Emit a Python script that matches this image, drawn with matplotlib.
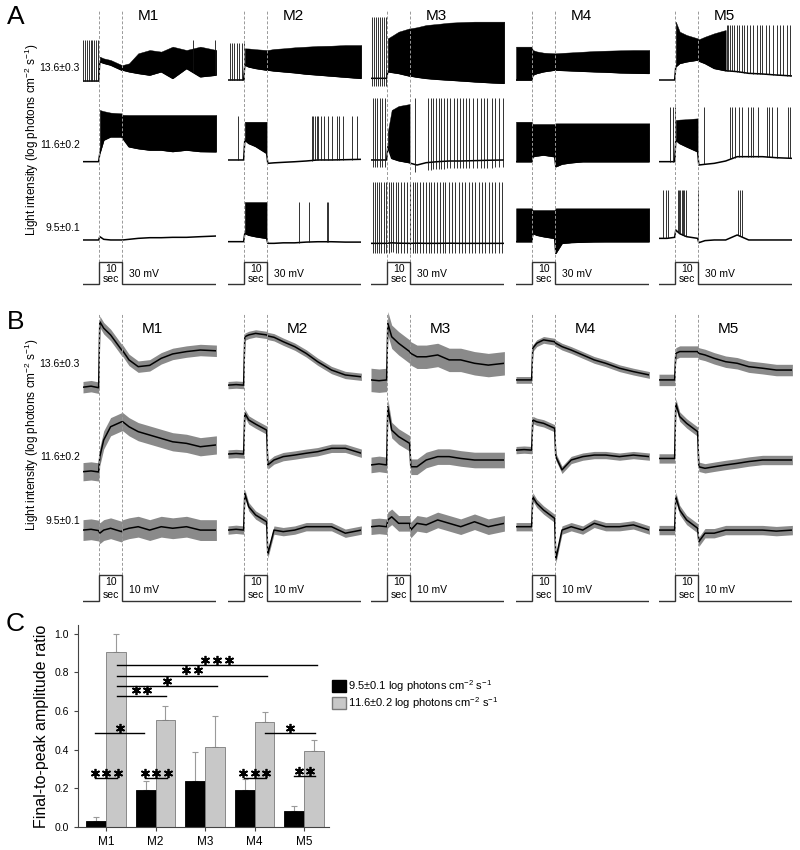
import numpy as np
import matplotlib
matplotlib.use('Agg')
import matplotlib.pyplot as plt
from matplotlib.patches import Patch
from matplotlib.transforms import ScaledTranslation

plt.rcParams['font.family'] = ['Liberation Sans', 'DejaVu Sans']
plt.rcParams['mathtext.fontset'] = 'custom'
plt.rcParams['mathtext.rm'] = 'Liberation Sans'
plt.rcParams['mathtext.it'] = 'Liberation Sans:italic'
plt.rcParams['mathtext.bf'] = 'Liberation Sans:bold'

# ---------------- data ----------------
cells = ['M1', 'M2', 'M3', 'M4', 'M5']
intensities = ['13.6±0.3', '11.6±0.2', '9.5±0.1']
ylabel_traces = r'Light intensity (log photons cm$^{\mathregular{-2}}$ s$^{\mathregular{-1}}$)'

# common time grid (s, light on 0-10 s)
t_grid = [-7, -3.5, -0.2, 0.3, 2, 5, 9.8, 10.3, 13, 17, 22, 27, 32, 38, 44, 51]

# ---- Panel A: single-cell recordings (mV relative to row baseline) ----
# M1
a_m1_hi_base = [-1.4, -1.4, -1.4, 25.0, 23.0, 20.5, 13.6, 13.6, 11.4, 9.1, 6.8, 11.4, 2.3, 15.9, 4.5, 6.8]
a_m1_hi_top = [-1.4, -1.4, -1.4, 31.8, 29.5, 27.3, 20.5, 20.5, 22.7, 36.4, 40.9, 38.7, 45.5, 40.9, 45.5, 40.9]
a_m1_hi_spk = [-6.9, -6.1, -5.3, -4.5, -3.7, -2.9, -2.1, -1.3, -0.5, 40.8, 50.6]
a_m1_mid_base = [-0.9, -0.9, -0.9, 10.5, 28.6, 33.1, 33.1, 31.0, 19.5, 17.0, 15.0, 15.0, 13.0, 15.0, 13.0, 12.7]
a_m1_mid_top = [-0.9, -0.9, -0.9, 69.6, 68.0, 66.0, 65.0, 63.0, 62.8, 62.8, 62.8, 62.8, 62.8, 62.8, 62.8, 62.8]
a_m1_mid_spk = []
a_m1_lo_base = [1.4, 1.4, 1.4, 5.9, 2.3, 1.4, 1.4, 1.4, 2.3, 3.6, 4.5, 4.5, 5.0, 5.0, 5.9, 6.8]
a_m1_lo_top = None
a_m1_lo_spk = []
# M2
a_m2_hi_base = [0.0, 0.0, 0.0, 20.5, 18.0, 15.9, 13.6, 13.6, 12.5, 11.4, 10.0, 8.2, 7.0, 5.5, 4.0, 2.3]
a_m2_hi_top = [0.0, 0.0, 0.0, 43.2, 43.0, 42.0, 40.9, 40.9, 42.3, 43.2, 44.6, 45.5, 46.4, 46.8, 47.7, 47.7]
a_m2_hi_spk = [-6.1, -5.1, -4.3, -3.1, -2.1, -1.0, -0.2]
a_m2_mid_base = [1.4, 1.4, 1.4, 28.6, 24.0, 20.0, 10.5, -3.2, -2.5, -1.8, -1.0, 0.0, 1.4, 1.4, 1.8, 2.3]
a_m2_mid_top = [1.4, 1.4, 1.4, 53.6, 53.6, 53.6, 53.6, -3.2, -2.5, -1.8, -1.0, 0.0, 1.4, 1.4, 1.8, 2.3]
a_m2_mid_spk = [-2.5, 29.4, 30.1, 30.8, 31.6, 32.3, 33.4, 34.6, 36.6, 38.1, 40.5, 41.4, 43.1, 46.8, 48.9, 50.7]
a_m2_lo_base = [-0.9, -0.9, -0.9, 10.5, 8.0, 6.0, 3.6, -3.2, -3.2, -2.5, -2.5, -1.5, -1.0, -1.0, -1.5, -1.5]
a_m2_lo_top = [-0.9, -0.9, -0.9, 53.2, 53.2, 53.2, 53.2, -3.2, -3.2, -2.5, -2.5, -1.5, -1.0, -1.0, -1.5, -1.5]
a_m2_lo_spk = [23.9, 28.2, 35.9, 36.6]
# M3
a_m3_hi_base = [2.3, 2.3, 2.3, 11.4, 10.5, 9.1, 5.5, 5.5, 4.0, 2.3, 1.0, 0.0, -1.0, -2.3, -3.4, -4.5]
a_m3_hi_top = [2.3, 2.3, 2.3, 56.8, 60.0, 65.9, 70.5, 70.5, 72.0, 75.0, 76.5, 78.2, 79.0, 79.6, 79.6, 79.6]
a_m3_hi_spk = [-6.4, -5.7, -4.8, -4.1, -3.1, -2.2, -1.3, -0.5]
a_m3_mid_base = [1.4, 1.4, 1.4, 19.5, 3.6, 0.5, -2.3, -3.2, -5.5, -2.3, -0.9, 0.0, 0.0, 0.5, 1.0, 1.4]
a_m3_mid_top = [1.4, 1.4, 1.4, 40.0, 69.6, 75.0, 77.7, -3.2, -5.5, -2.3, -0.9, 0.0, 0.0, 0.5, 1.0, 1.4]
a_m3_mid_spk = [-6.3, -5.3, -4.3, -3.1, -2.1, -0.9, 12.1, 17.9, 19.1, 20.1, 21.3, 22.4, 23.6, 24.7, 26.2,
                27.3, 29.1, 30.5, 31.7, 33.1, 34.3, 35.7, 37.5, 38.9, 40.7, 42.1, 43.6, 45.5, 46.9, 48.7, 50.3]
a_m3_lo_base = [-3.2, -3.2, -3.2, -3.0, -2.5, -3.0, -3.2, -3.2, -3.0, -3.2, -3.2, -3.0, -3.2, -3.2, -3.2, -3.2]
a_m3_lo_top = None
a_m3_lo_spk = [-6.3, -5.4, -4.5, -3.4, -2.5, -1.4, -0.5, 0.7, 1.6, 2.7, 3.9, 4.7, 6.2, 7.4, 8.5, 10.0,
               11.1, 12.0, 13.2, 14.3, 15.8, 16.9, 18.1, 19.2, 20.4, 21.6, 23.0, 24.2, 25.3, 26.8, 28.2,
               29.7, 31.1, 32.6, 34.0, 35.5, 36.9, 38.4, 39.8, 41.3, 42.7, 44.2, 45.6, 47.1, 48.5, 50.0]
# M4
a_m4_hi_base = [0.0, 0.0, 0.0, 6.8, 9.0, 11.4, 13.6, 13.6, 13.2, 12.7, 12.0, 11.4, 10.9, 10.0, 9.5, 9.1]
a_m4_hi_top = [45.5, 45.5, 45.5, 40.9, 39.0, 37.3, 36.4, 36.4, 37.0, 37.7, 38.6, 39.5, 40.0, 40.5, 40.9, 40.9]
a_m4_hi_spk = []
a_m4_mid_base = [-0.9, -0.9, -0.9, 5.9, 7.0, 8.2, 5.9, -7.7, -4.1, -2.3, -0.9, -0.9, -0.9, -0.9, -0.9, -0.9]
a_m4_mid_top = [53.6, 53.6, 53.6, 50.5, 50.5, 50.5, 50.5, 51.4, 51.4, 51.4, 51.4, 51.4, 51.4, 51.4, 51.4, 51.4]
a_m4_mid_spk = []
a_m4_lo_base = [-0.9, -0.9, -0.9, 10.5, 8.0, 6.0, 3.6, -16.8, -3.2, -2.0, -1.5, -1.0, -0.9, -0.9, -0.9, -0.9]
a_m4_lo_top = [44.6, 44.6, 44.6, 42.3, 42.3, 42.3, 42.3, 44.6, 44.6, 44.6, 44.6, 44.6, 44.6, 44.6, 44.6, 44.6]
a_m4_lo_spk = []
# M5
a_m5_hi_base = [0.0, 0.0, 0.0, 18.2, 22.7, 25.0, 27.3, 26.0, 22.7, 15.9, 12.7, 11.4, 9.1, 8.2, 6.8, 5.5]
a_m5_hi_top = [0.0, 0.0, 0.0, 79.6, 65.9, 61.4, 56.8, 55.5, 59.1, 63.7, 68.2, 11.4, 9.1, 8.2, 6.8, 5.5]
a_m5_hi_spk = [22.4, 23.1, 23.9, 24.9, 25.7, 26.8, 27.8, 28.9, 30.1, 31.1, 32.6, 34.0, 35.5, 36.9, 37.9,
               39.4, 40.8, 42.7, 44.2, 45.6, 47.1, 48.5, 50.0]
a_m5_mid_base = [-0.9, -0.9, -0.9, 28.6, 24.0, 19.5, 12.7, -5.5, -4.5, -3.2, 0.0, 5.9, 5.9, 5.9, 4.5, 3.6]
a_m5_mid_top = [-0.9, -0.9, -0.9, 55.9, 56.5, 57.0, 58.2, -5.5, -4.5, -3.2, 0.0, 5.9, 5.9, 5.9, 4.5, 3.6]
a_m5_mid_spk = [-2.2, -0.8, -0.1, 12.7, 23.9, 24.9, 26.0, 27.9, 28.9, 31.8, 33.0, 34.0, 36.2, 39.8, 40.8,
                42.3, 44.2, 48.9, 50.1]
a_m5_lo_base = [3.6, 3.6, 5.0, 15.0, 10.0, 5.9, 3.6, -2.3, 0.5, 1.4, 1.4, 8.2, 1.4, 1.4, 1.4, 1.4]
a_m5_lo_top = None
a_m5_lo_spk = [-5.1, -4.1, -3.0, 1.1, 1.7, 2.3, 2.9, 3.4, 4.0, 4.6, 9.8, 27.5, 28.2, 28.9]

# spike peak (mV above row baseline) and undershoot (mV below trace)
a_spike_peak = [[54.6, 0, 0], [50, 62, 53], [86, 86, 81], [0, 0, 0], [75, 74, 70]]
a_spike_under = [[0, 0, 0], [0, 0, 0], [11, 10, 13], [0, 0, 0], [0, 0, 0]]

# ---- Panel B: averaged responses, mean (mV rel. row) and SEM ----
b_m1_hi = [-2.0, -1.6, -2.2, 23.2, 20.7, 18.1, 12.3, 12.0, 8.5, 5.9, 6.4, 9.1, 10.8, 11.7, 12.3, 12.0]
b_m1_mid = [-4.5, -4.2, -4.6, 1.3, 7.7, 12.8, 14.7, 14.7, 12.8, 10.9, 9.6, 8.3, 7.0, 6.4, 5.1, 5.8]
b_m1_lo = [-0.8, -0.5, -1.0, -2.0, -0.8, -0.1, -1.4, -0.8, -0.1, 0.5, -0.8, 0.5, -0.1, 0.5, -0.8, -0.8]
b_m2_hi = [-1.2, -1.0, -1.2, 17.4, 18.1, 18.7, 18.1, 17.7, 17.2, 15.5, 13.6, 11.0, 7.8, 4.6, 2.7, 2.0]
b_m2_mid = [2.3, 2.5, 2.3, 18.0, 15.4, 13.8, 11.5, -1.9, 0.0, 1.3, 1.9, 2.6, 3.2, 4.5, 4.5, 2.6]
b_m2_lo = [-0.8, -0.5, -0.8, 13.3, 8.2, 5.0, 2.4, -10.0, -0.8, -1.4, -0.8, 0.5, 0.5, 0.5, -2.0, -0.8]
b_m3_hi = [0.8, 0.5, 0.8, 22.6, 17.4, 14.9, 11.7, 11.0, 9.7, 9.7, 10.4, 8.5, 8.5, 7.2, 6.5, 7.2]
b_m3_mid = [-1.9, -1.5, -1.9, 20.5, 11.5, 9.0, 6.4, -2.6, -2.6, 0.0, 1.3, 1.3, 0.6, 0.0, 0.0, 0.0]
b_m3_lo = [0.5, 0.8, 0.5, 3.1, 4.3, 1.8, 1.8, -0.8, 1.8, 1.2, 3.1, 1.8, 0.5, 2.4, 0.5, 1.8]
b_m4_hi = [0.8, 0.8, 0.8, 13.0, 14.9, 16.2, 15.5, 14.9, 13.6, 12.3, 10.4, 8.5, 7.2, 5.3, 4.0, 2.7]
b_m4_mid = [3.8, 4.0, 3.8, 15.4, 14.7, 14.1, 12.2, 1.3, -3.8, 0.0, 1.3, 1.9, 1.9, 1.3, 1.9, 1.3]
b_m4_lo = [0.5, 0.5, 0.5, 12.0, 9.5, 6.9, 3.7, -12.0, -0.8, 0.5, -0.8, 1.8, 0.5, 0.5, 1.2, -0.8]
b_m5_hi = [0.8, 0.8, 0.8, 11.0, 11.7, 11.7, 11.7, 11.0, 10.4, 9.1, 7.8, 7.2, 5.9, 5.3, 4.6, 4.6]
b_m5_mid = [0.6, 0.6, 0.6, 21.8, 16.7, 14.1, 10.9, -2.6, -3.2, -2.6, -1.9, -1.3, -0.6, 0.0, 0.0, 0.0]
b_m5_lo = [-0.8, -0.8, -0.8, 12.0, 6.9, 3.1, -0.1, -5.3, -2.0, -2.0, -0.8, -0.8, -0.8, -0.8, -1.2, -0.8]
b_sem = [[2.2, 3.5, 4.0], [1.4, 1.6, 1.6], [4.5, 3.0, 3.0], [1.3, 1.4, 1.6], [2.2, 1.8, 1.8]]

# ---- Panel C: final-to-peak amplitude ratio ----
ratio_dim = [0.031, 0.190, 0.239, 0.192, 0.083]
ratio_dim_err = [0.021, 0.046, 0.147, 0.054, 0.028]
ratio_mid = [0.905, 0.555, 0.412, 0.542, 0.392]
ratio_mid_err = [0.095, 0.069, 0.160, 0.051, 0.057]
legend_labels = [r'9.5±0.1 log photons cm$^{\mathregular{-2}}$ s$^{\mathregular{-1}}$',
                 r'11.6±0.2 log photons cm$^{\mathregular{-2}}$ s$^{\mathregular{-1}}$']
# significance brackets: x start, x end, y, number of asterisks
sig_x0 = [-0.22, 0.79, 2.78, 3.79, -0.22, 3.21, 0.22, 0.22, 0.22, 0.22]
sig_x1 = [0.22, 1.23, 3.23, 4.22, 0.77, 4.22, 1.21, 2.24, 3.25, 4.26]
sig_y = [0.251, 0.251, 0.251, 0.262, 0.485, 0.485, 0.679, 0.728, 0.783, 0.837]
sig_stars = [3, 3, 3, 2, 1, 1, 2, 1, 2, 3]

# ---------------- layout ----------------
W, H = 800, 850
fig = plt.figure(figsize=(W / 100, H / 100), dpi=100)


def px_axes(x0, y0, x1, y1):
    return fig.add_axes([x0 / W, 1 - y1 / H, (x1 - x0) / W, (y1 - y0) / H])


col_left = [83, 228, 371, 516, 659]
col_w = 133.4
T = np.array(t_grid, dtype=float)

A_traces = [
    [(a_m1_hi_base, a_m1_hi_top, a_m1_hi_spk), (a_m1_mid_base, a_m1_mid_top, a_m1_mid_spk), (a_m1_lo_base, a_m1_lo_top, a_m1_lo_spk)],
    [(a_m2_hi_base, a_m2_hi_top, a_m2_hi_spk), (a_m2_mid_base, a_m2_mid_top, a_m2_mid_spk), (a_m2_lo_base, a_m2_lo_top, a_m2_lo_spk)],
    [(a_m3_hi_base, a_m3_hi_top, a_m3_hi_spk), (a_m3_mid_base, a_m3_mid_top, a_m3_mid_spk), (a_m3_lo_base, a_m3_lo_top, a_m3_lo_spk)],
    [(a_m4_hi_base, a_m4_hi_top, a_m4_hi_spk), (a_m4_mid_base, a_m4_mid_top, a_m4_mid_spk), (a_m4_lo_base, a_m4_lo_top, a_m4_lo_spk)],
    [(a_m5_hi_base, a_m5_hi_top, a_m5_hi_spk), (a_m5_mid_base, a_m5_mid_top, a_m5_mid_spk), (a_m5_lo_base, a_m5_lo_top, a_m5_lo_spk)],
]
B_traces = [
    [b_m1_hi, b_m1_mid, b_m1_lo], [b_m2_hi, b_m2_mid, b_m2_lo], [b_m3_hi, b_m3_mid, b_m3_lo],
    [b_m4_hi, b_m4_mid, b_m4_lo], [b_m5_hi, b_m5_mid, b_m5_lo],
]

dash_style = (0, (3, 2))


def stim_bar(ax, bot, top, amp_label, y10, ysec, yamp):
    ax.plot([-7, 0, 0, 10, 10, 51], [bot, bot, top, top, bot, bot], color='#333333', lw=1.0,
            solid_joinstyle='miter')
    ax.text(5, y10, '10', ha='center', va='center', fontsize=7.5)
    ax.text(5, ysec, 'sec', ha='center', va='center', fontsize=7.5)
    ax.text(13, yamp, amp_label, ha='left', va='center', fontsize=7.5)


# ---- Panel A ----
A_PX_MV = 0.733
A_YMAX = 285 / A_PX_MV
a_rows = [(290 - 80) / A_PX_MV, (290 - 161) / A_PX_MV, (290 - 241) / A_PX_MV]
for c in range(5):
    ax = px_axes(col_left[c], 5, col_left[c] + col_w, 290)
    ax.set_xlim(-7, 51)
    ax.set_ylim(0, A_YMAX)
    ax.axis('off')
    for r in range(3):
        base, top, spk = A_traces[c][r]
        off = a_rows[r]
        b = np.array(base) + off
        if top is not None:
            tp = np.array(top) + off
            ax.fill_between(T, b, tp, where=tp > b + 0.5, color='black', lw=0.3, edgecolor='black')
        ax.plot(T, b, color='black', lw=1.1)
        if len(spk):
            s = np.array(spk)
            sb = np.interp(s, T, b) - a_spike_under[c][r]
            ax.vlines(s, sb, off + a_spike_peak[c][r], colors='#111111', lw=0.6)
    bot, topb = (290 - 284) / A_PX_MV, (290 - 284) / A_PX_MV + 30
    ax.vlines([0, 10], topb, (290 - 10) / A_PX_MV, colors='#999999', linestyles=dash_style, lw=0.7)
    stim_bar(ax, bot, topb, '30 mV', (290 - 269) / A_PX_MV, (290 - 279) / A_PX_MV, (290 - 274) / A_PX_MV)
    ax.text(21.5, (290 - 16) / A_PX_MV, cells[c], ha='center', va='center', fontsize=11)

# ---- Panel B ----
B_PX_MV = 2.6
B_YMAX = 305 / B_PX_MV
b_rows = [(605 - 382) / B_PX_MV, (605 - 460) / B_PX_MV, (605 - 528) / B_PX_MV]
for c in range(5):
    ax = px_axes(col_left[c], 300, col_left[c] + col_w, 605)
    ax.set_xlim(-7, 51)
    ax.set_ylim(0, B_YMAX)
    ax.axis('off')
    for r in range(3):
        m = np.array(B_traces[c][r]) + b_rows[r]
        e = b_sem[c][r]
        ax.fill_between(T, m - e, m + e, color='#8a8a8a', lw=0)
        ax.plot(T, m, color='black', lw=1.1)
    bot, topb = (605 - 601) / B_PX_MV, (605 - 601) / B_PX_MV + 10
    ax.vlines([0, 10], topb, (605 - 313) / B_PX_MV, colors='#999999', linestyles=dash_style, lw=0.7)
    stim_bar(ax, bot, topb, '10 mV', (605 - 582) / B_PX_MV, (605 - 595) / B_PX_MV, (605 - 590) / B_PX_MV)
    ax.text(23, (605 - 329) / B_PX_MV, cells[c], ha='center', va='center', fontsize=11)

# row labels and y labels
for lab, y in zip(intensities, [68, 145, 228]):
    fig.text(80 / W, 1 - y / H, lab, ha='right', va='center', fontsize=7.5)
for lab, y in zip(intensities, [364, 457, 521]):
    fig.text(80 / W, 1 - y / H, lab, ha='right', va='center', fontsize=7.5)
fig.text(32 / W, 1 - 140 / H, ylabel_traces, rotation=90, ha='center', va='center', fontsize=8.5)
fig.text(32 / W, 1 - 435 / H, ylabel_traces, rotation=90, ha='center', va='center', fontsize=8.5)

for lab, (x, y) in zip(['A', 'B', 'C'], [(16, 17), (16, 322), (15, 624)]):
    fig.text(x / W, 1 - y / H, lab, ha='center', va='center', fontsize=19)

# ---- Panel C ----
axc = px_axes(78, 625, 329, 827)
x = np.arange(len(cells))
bw = 0.40
axc.bar(x - bw / 2, ratio_dim, bw, color='black', edgecolor='black', lw=0.6, zorder=2)
axc.bar(x + bw / 2, ratio_mid, bw, color='#c8c8c8', edgecolor='#7a7a7a', lw=0.6, zorder=2)
axc.errorbar(x - bw / 2, ratio_dim, yerr=[np.zeros(5), ratio_dim_err], fmt='none', ecolor='#9a9a9a',
             elinewidth=0.8, capsize=2.5, capthick=0.8, zorder=1)
axc.errorbar(x + bw / 2, ratio_mid, yerr=[np.zeros(5), ratio_mid_err], fmt='none', ecolor='#9a9a9a',
             elinewidth=0.8, capsize=2.5, capthick=0.8, zorder=1)
star_pitch = 8.3   # points between asterisks
star_lift = 3.8    # points above the bracket line
for x0, x1, y, n in zip(sig_x0, sig_x1, sig_y, sig_stars):
    axc.plot([x0, x1], [y, y], color='black', lw=1.0, zorder=3)
    xc = (x0 + x1) / 2
    for k in range(n):
        dx = (k - (n - 1) / 2) * star_pitch
        tr = axc.transData + ScaledTranslation(dx / 72, star_lift / 72, fig.dpi_scale_trans)
        axc.plot([xc], [y], marker=(6, 2, 0), markersize=6.6, mew=1.25, color='black',
                 transform=tr, zorder=4, clip_on=False)
axc.set_xlim(-0.566, 4.5)
axc.set_ylim(0, 1.045)
axc.set_yticks([0, 0.2, 0.4, 0.6, 0.8, 1.0])
axc.set_yticklabels(['%.1f' % v for v in [0, 0.2, 0.4, 0.6, 0.8, 1.0]])
axc.set_xticks(x)
axc.set_xticklabels(cells)
axc.tick_params(axis='y', labelsize=7.5, length=3, width=0.8, color='#444444')
axc.tick_params(axis='x', labelsize=8.5, length=3, width=0.8, color='#444444')
for s in ['top', 'right']:
    axc.spines[s].set_visible(False)
for s in ['left', 'bottom']:
    axc.spines[s].set_color('#444444')
    axc.spines[s].set_linewidth(0.8)
axc.set_ylabel('Final-to-peak amplitude ratio', fontsize=11.5, labelpad=4)

handles = [Patch(facecolor='black', edgecolor='black'), Patch(facecolor='#c8c8c8', edgecolor='#7a7a7a')]
fig.legend(handles, legend_labels, loc='upper left', bbox_to_anchor=(332 / W, 1 - 678 / H),
           frameon=False, fontsize=8, handlelength=1.3, handleheight=1.3, handletextpad=0.15,
           borderaxespad=0, borderpad=0, labelspacing=0.1)

fig.savefig('out.png', dpi=100)
